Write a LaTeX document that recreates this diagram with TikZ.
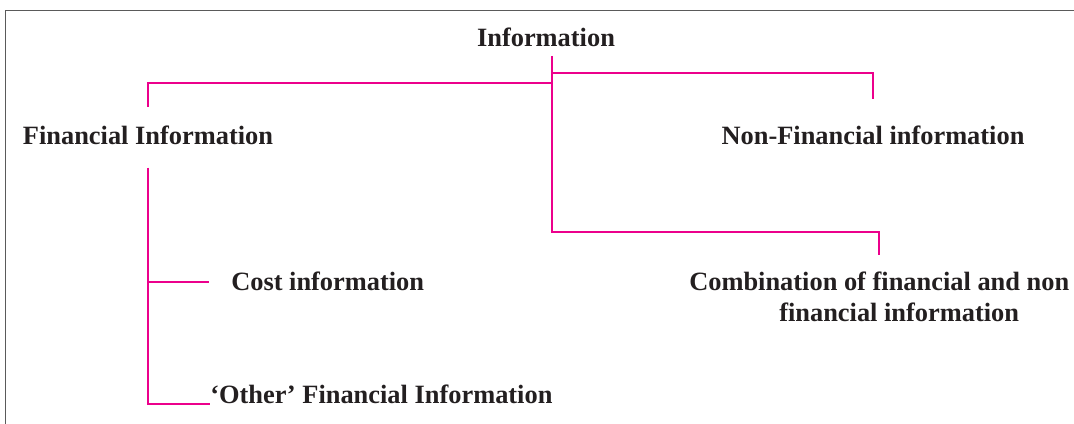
\documentclass[tikz,border=0pt]{standalone}
\usepackage{fontspec}
\setmainfont{Liberation Serif}
\usepackage{xcolor}

\begin{document}
\begin{tikzpicture}[x=0.75pt, y=0.75pt,
    label/.style={font=\fontsize{19.8}{23.25}\selectfont\bfseries, text=ink, inner sep=0pt},
    link/.style={line width=1.2pt, primary}]
    % Define colors
    \definecolor{primary}{RGB}{236, 0, 140}
    \definecolor{ink}{RGB}{35, 31, 32}
    \definecolor{edge}{RGB}{90, 90, 90}

    % Fix the page and draw the frame
    \useasboundingbox (0,0) rectangle (1074,424);
    \clip (0,0) rectangle (1074,424);
    \draw[line width=1pt, edge] (5.5,413.5) rectangle (1100,-30);

    % Draw labels
    \node[label, anchor=base] (info) at (546,377) {Information};
    \node[label, anchor=base] (fin) at (148,279) {Financial Information};
    \node[label, anchor=base] (nonfin) at (873,279) {Non-Financial information};
    \node[label, anchor=base west, align=left] (comb) at (689,102)
        {Combination of financial and non\\\hspace*{67.5pt}financial information};
    \node[label, anchor=base west] (cost) at (231,133) {Cost information};
    \node[label, anchor=base west] (other) at (210,20) {‘Other’ Financial Information};

    % Draw connectors
    \coordinate (hub) at (552,368);
    \coordinate (rjoin) at (552,351);
    \coordinate (ljoin) at (552,341);
    \coordinate (split) at (552,192);
    \draw[link, shorten >=12.75pt] (hub) -- (split) -| (comb.north);
    \draw[link, shorten >=20.25pt] (rjoin) -| (nonfin.north);
    \draw[link, shorten >=14.25pt] (ljoin) -| (fin.north);
    \draw[link, shorten <=16.5pt] (fin.south) |- (other.base west);
    \draw[link, shorten >=16.5pt] (fin.south |- cost.west) -- (cost.west);
\end{tikzpicture}
\end{document}
